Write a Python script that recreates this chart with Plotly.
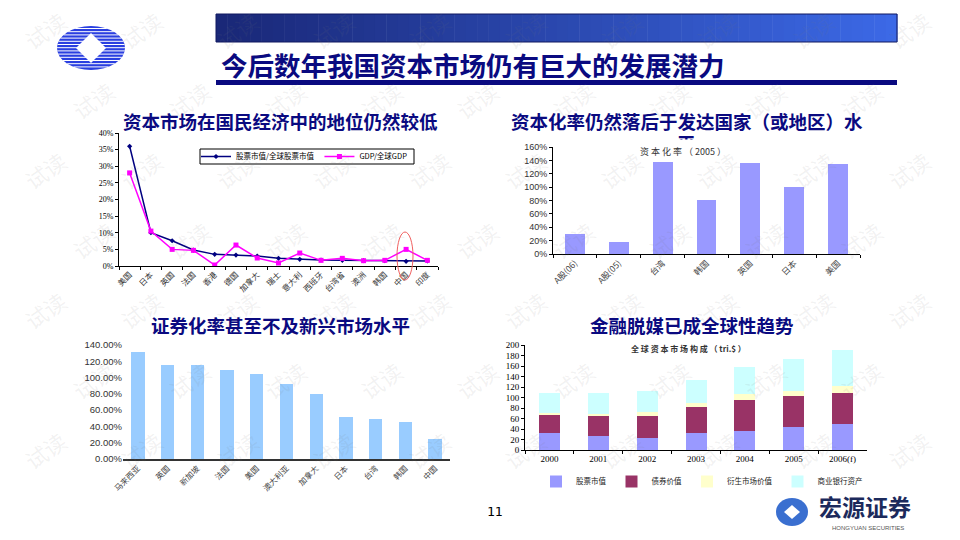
import plotly.graph_objects as go

# ---------------- data ----------------
c1_countries = ["美国", "日本", "英国", "法国", "香港", "德国", "加拿大", "瑞士",
                "意大利", "西班牙", "台湾省", "澳洲", "韩国", "中国", "印度"]
c1_stock_share = [0.36, 0.10, 0.076, 0.048, 0.035, 0.033, 0.030, 0.023,
                  0.020, 0.018, 0.017, 0.016, 0.016, 0.014, 0.015]
c1_gdp_share = [0.28, 0.105, 0.050, 0.047, 0.003, 0.063, 0.024, 0.009,
                0.039, 0.017, 0.023, 0.016, 0.017, 0.050, 0.017]
c1_names = ["股票市值/全球股票市值", "GDP/全球GDP"]

c2_labels = ["A股(06)", "A股(05)", "台湾", "韩国", "英国", "日本", "美国"]
c2_values = [0.30, 0.18, 1.37, 0.81, 1.36, 1.00, 1.34]

c3_labels = ["马来西亚", "英国", "新加坡", "法国", "美国", "澳大利亚", "加拿大",
             "日本", "台湾", "韩国", "中国"]
c3_values = [1.32, 1.15, 1.15, 1.09, 1.05, 0.92, 0.80, 0.52, 0.49, 0.45, 0.24]

c4_years = ["2000", "2001", "2002", "2003", "2004", "2005", "2006(f)"]
c4_stock = [32, 27, 23, 32, 37, 43, 49]
c4_bond = [35, 38, 42, 50, 59, 59, 60]
c4_deriv = [4, 4, 7, 8, 10, 11, 12]
c4_bank = [38, 40, 40, 44, 53, 61, 69]
c4_names = ["股票市值", "债券价值", "衍生市场价值", "商业银行资产"]

W, H = 960, 540
def px(x):
    return x / W
def py(y):
    return 1 - y / H

CJK = "Noto Sans CJK SC"
SERIF = "Liberation Serif"
SANS = "Liberation Sans"
NAVY = "#0a0a80"
TITLE_SIZE = 18.5

fig = go.Figure()

# ---------- chart 1 ----------
fig.add_trace(go.Scatter(x=c1_countries, y=c1_stock_share, name=c1_names[0],
                         mode="lines+markers", line=dict(color="#000080", width=1.5),
                         marker=dict(symbol="diamond", size=4, color="#000080"),
                         xaxis="x", yaxis="y", legend="legend"))
fig.add_trace(go.Scatter(x=c1_countries, y=c1_gdp_share, name=c1_names[1],
                         mode="lines+markers", line=dict(color="#FF00FF", width=1.5),
                         marker=dict(symbol="square", size=5, color="#FF00FF"),
                         xaxis="x", yaxis="y", legend="legend"))

# ---------- chart 2 ----------
fig.add_trace(go.Bar(x=c2_labels, y=c2_values, marker=dict(color="#9999FF", line=dict(width=0)),
                     width=0.45, showlegend=False, xaxis="x2", yaxis="y2"))

# ---------- chart 3 ----------
fig.add_trace(go.Bar(x=c3_labels, y=c3_values, marker=dict(color="#99CCFF", line=dict(width=0)),
                     width=0.45, showlegend=False, xaxis="x3", yaxis="y3"))

# ---------- chart 4 ----------
for vals, nm, col in zip([c4_stock, c4_bond, c4_deriv, c4_bank], c4_names,
                         ["#9999FF", "#993366", "#FFFFCC", "#CCFFFF"]):
    fig.add_trace(go.Bar(x=c4_years, y=vals, name=nm, width=0.43,
                         marker=dict(color=col, line=dict(width=0)),
                         xaxis="x4", yaxis="y4", legend="legend2"))

axis_common = dict(showgrid=False, zeroline=False, showline=True, linecolor="black",
                   linewidth=1, ticks="outside", ticklen=3, tickcolor="black")

layout = dict(
    width=W, height=H, margin=dict(l=0, r=0, t=0, b=0, autoexpand=False),
    paper_bgcolor="white", plot_bgcolor="rgba(0,0,0,0)",
    barmode="stack",
    xaxis=dict(domain=[px(119), px(438)], anchor="y", type="category", range=[-0.5, 14.5],
               tickangle=-45, tickfont=dict(family=CJK, size=8, color="#333"),
               tickson="boundaries", **axis_common),
    yaxis=dict(domain=[py(266), py(133)], anchor="x", range=[0, 0.40], dtick=0.05,
               tickformat=".0%", tickfont=dict(family=SERIF, size=8, color="black"), **axis_common),
    xaxis2=dict(domain=[px(553), px(860)], anchor="y2", type="category", range=[-0.5, 6.5],
                tickangle=-45, tickfont=dict(family=CJK, size=8.5, color="#444"),
                tickson="boundaries", **axis_common),
    yaxis2=dict(domain=[py(254), py(147)], anchor="x2", range=[0, 1.6], dtick=0.2,
                tickformat=".0%", tickfont=dict(family=SANS, size=9, color="#333"), **axis_common),
    xaxis3=dict(domain=[px(123), px(450)], anchor="y3", type="category", range=[-0.5, 10.5],
                tickangle=-45, tickfont=dict(family=CJK, size=8, color="#444"),
                showgrid=False, zeroline=False, showline=True, linecolor="#333", linewidth=1.5,
                ticks=""),
    yaxis3=dict(domain=[py(459), py(345)], anchor="x3", range=[0, 1.4], dtick=0.2,
                tickformat=".2%", tickfont=dict(family=SANS, size=9.5, color="#333"),
                showgrid=False, zeroline=False, showline=False, ticks=""),
    xaxis4=dict(domain=[px(525), px(867)], anchor="y4", type="category", range=[-0.5, 6.5],
                tickfont=dict(family=SERIF, size=9, color="black"), tickson="boundaries",
                **axis_common),
    yaxis4=dict(domain=[py(450), py(345)], anchor="x4", range=[0, 200], dtick=20,
                tickfont=dict(family=SERIF, size=9, color="black"), **axis_common),
    legend=dict(orientation="h", x=px(196), y=py(156.5), xanchor="left", yanchor="middle",
                borderwidth=0, bgcolor="rgba(0,0,0,0)", traceorder="normal",
                font=dict(family=CJK, size=7.5, color="black"), itemwidth=30),
    legend2=dict(orientation="h", x=px(536), y=py(467), xanchor="left", yanchor="top",
                 font=dict(family=CJK, size=7.5, color="#222"), bgcolor="rgba(0,0,0,0)",
                 itemwidth=30, traceorder="normal"),
)
fig.update_layout(**layout)

shapes = []
annotations = []

# watermarks
for j, yy in enumerate(range(30, 500, 70)):
    off = 0 if j % 2 == 0 else 48
    for xx in range(45 + off, 935, 96):
        annotations.append(dict(x=px(xx), y=py(yy), text="试读", textangle=-35,
                                font=dict(family=CJK, size=22, color="rgba(120,120,120,0.10)")))

# header gradient bar
n = 60
x0, x1 = 216, 897
c_left = (26, 40, 120)
c_right = (60, 105, 230)
for i in range(n):
    t = i / (n - 1)
    col = tuple(int(c_left[k] + (c_right[k] - c_left[k]) * t) for k in range(3))
    xa = x0 + (x1 - x0) * i / n
    xb = x0 + (x1 - x0) * (i + 1) / n + 0.5
    shapes.append(dict(type="rect", xref="paper", yref="paper", x0=px(xa), x1=px(xb),
                       y0=py(42), y1=py(14), fillcolor="rgb(%d,%d,%d)" % col, line=dict(width=0),
                       layer="below"))
shapes.append(dict(type="rect", xref="paper", yref="paper", x0=px(216), x1=px(897),
                   y0=py(42), y1=py(14), line=dict(color="#101860", width=1), layer="below"))
# underline
shapes.append(dict(type="rect", xref="paper", yref="paper", x0=px(216), x1=px(897),
                   y0=py(85), y1=py(80), fillcolor="#0a0a80", line=dict(width=0), layer="below"))

# chart 1 legend box
shapes.append(dict(type="rect", xref="paper", yref="paper", x0=px(200), x1=px(414),
                   y0=py(164), y1=py(149), fillcolor="white", line=dict(color="black", width=1),
                   layer="below"))

# top-left logo
cx, cy, rx, ry = 91, 48, 34, 22
shapes.append(dict(type="circle", xref="paper", yref="paper", x0=px(cx - rx), x1=px(cx + rx),
                   y0=py(cy + ry), y1=py(cy - ry), fillcolor="#2a3fe0", line=dict(width=0),
                   layer="below"))
k = -ry + 2.5
while k < ry:
    hw = rx * max(0.0, 1 - (k / ry) ** 2) ** 0.5
    shapes.append(dict(type="line", xref="paper", yref="paper", x0=px(cx - hw), x1=px(cx + hw),
                       y0=py(cy + k), y1=py(cy + k), line=dict(color="white", width=1),
                       layer="below"))
    k += 3.2
shapes.append(dict(type="path", xref="paper", yref="paper",
                   path="M %f %f L %f %f L %f %f L %f %f Z" % (
                       px(cx - 15), py(cy), px(cx), py(cy - 15), px(cx + 15), py(cy),
                       px(cx), py(cy + 15)),
                   fillcolor="white", line=dict(width=0), layer="below"))

# footer logo
fx, fy, frx, fry = 792, 512, 16, 14
shapes.append(dict(type="circle", xref="paper", yref="paper", x0=px(fx - frx), x1=px(fx + frx),
                   y0=py(fy + fry), y1=py(fy - fry), fillcolor="#3a6fd0", line=dict(width=0)))
shapes.append(dict(type="path", xref="paper", yref="paper",
                   path="M %f %f L %f %f L %f %f L %f %f Z" % (
                       px(fx - 8), py(fy), px(fx), py(fy - 7), px(fx + 8), py(fy),
                       px(fx), py(fy + 7)),
                   fillcolor="white", line=dict(width=0)))

# red ellipse on chart 1
shapes.append(dict(type="circle", xref="paper", yref="paper", x0=px(397), x1=px(413),
                   y0=py(280), y1=py(232), line=dict(color="#F06060", width=1)))

tfont = dict(family=CJK, size=TITLE_SIZE, color=NAVY, weight=600)
# texts
annotations += [
    dict(x=px(219), y=py(65), text="<b>今后数年我国资本市场仍有巨大的发展潜力</b>",
         xanchor="left", font=dict(family=CJK, size=26.5, color=NAVY)),
    dict(x=px(280), y=py(121), text="资本市场在国民经济中的地位仍然较低", font=tfont),
    dict(x=px(687), y=py(121), text="资本化率仍然落后于发达国家（或地区）水", font=tfont),
    dict(x=px(686), y=py(143), text="平", font=tfont),
    # the chart area hides the lower half of the wrapped character
    dict(x=px(686), y=py(147), text=" ", width=30, height=12, bgcolor="white",
         font=dict(size=6)),
    dict(x=px(280), y=py(325), text="证券化率甚至不及新兴市场水平", font=tfont),
    dict(x=px(692), y=py(325), text="金融脱媒已成全球性趋势", font=tfont),
    dict(x=px(683), y=py(152), text="资 本 化 率 （ 2005 ）",
         font=dict(family=CJK, size=9, color="#333")),
    dict(x=px(688), y=py(348), text="<b>全 球 资 本 市 场 构 成 （ tri.$ ）</b>",
         font=dict(family=CJK, size=8, color="#333")),
    dict(x=px(495), y=py(511), text="11", font=dict(family="DejaVu Sans Mono", size=13, color="black")),
    dict(x=px(865), y=py(506), text="<b>宏源证券</b>", font=dict(family=CJK, size=23, color="#1c2a5c")),
    dict(x=px(868), y=py(527.5), text="HONGYUAN SECURITIES", font=dict(family=SANS, size=6, color="#555")),
]
for a in annotations:
    a.setdefault("xref", "paper")
    a.setdefault("yref", "paper")
    a.setdefault("showarrow", False)
    a.setdefault("xanchor", "center")
    a.setdefault("yanchor", "middle")

fig.update_layout(shapes=shapes, annotations=annotations)
fig.write_html("out.html", config={"displayModeBar": False},
               post_script="document.body.style.margin='0';document.body.style.overflow='hidden';")
